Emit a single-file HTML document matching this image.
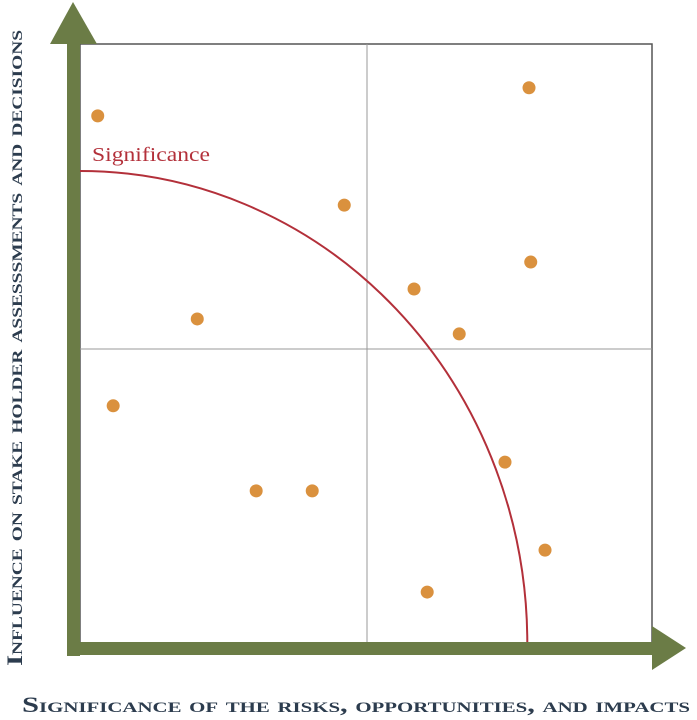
<!DOCTYPE html>
<html><head><meta charset="utf-8"><style>
body{margin:0;background:#fff;}
svg{display:block;}
.lbl{font-family:"Liberation Serif",serif;font-weight:bold;fill:#2c3c4e;font-variant:small-caps;}
</style></head><body>
<svg width="697" height="720" viewBox="0 0 697 720">
<rect x="80" y="44" width="572" height="599" fill="none" stroke="#555" stroke-width="1.5"/>
<line x1="367" y1="44" x2="367" y2="643" stroke="#999" stroke-width="1"/>
<line x1="80" y1="349" x2="652" y2="349" stroke="#999" stroke-width="1"/>
<path id="curve" fill="none" stroke="#b3303a" stroke-width="2"/>
<text x="92" y="161" font-family="Liberation Serif,serif" font-size="20" fill="#b3303a" textLength="118" lengthAdjust="spacingAndGlyphs">Significance</text>
<g id="dots"></g>
<rect x="67" y="40" width="13" height="616" fill="#6b7c46"/>
<polygon points="73,2 50,44 97,44" fill="#6b7c46"/>
<rect x="67" y="642" width="590" height="13" fill="#6b7c46"/>
<polygon points="686,648 652,626 652,670" fill="#6b7c46"/>
<text class="lbl" x="356" y="712" font-size="22" text-anchor="middle" textLength="668" lengthAdjust="spacingAndGlyphs">Significance of the risks, opportunities, and impacts</text>
<text class="lbl" transform="translate(22,348) rotate(-90)" font-size="22" text-anchor="middle" textLength="636" lengthAdjust="spacingAndGlyphs">Influence on stake holder assesssments and decisions</text>
</svg>
<script>
const xs=[0.31,7.85,4.62,7.88,5.84,2.05,6.63,0.58,7.43,3.08,4.06,8.13,6.07];
const ys=[8.80,9.27,7.31,6.36,5.91,5.41,5.16,3.96,3.02,2.54,2.54,1.55,0.85];
const curveX=7.82, curveY=7.88;
const X=v=>80+v*57.2, Y=v=>643-v*59.9;
const g=document.getElementById('dots');
xs.forEach((x,i)=>{const c=document.createElementNS('http://www.w3.org/2000/svg','circle');
c.setAttribute('cx',X(x));c.setAttribute('cy',Y(ys[i]));c.setAttribute('r',6.5);c.setAttribute('fill','#da913e');


g.appendChild(c);});
const rx=X(curveX)-X(0), ry=Y(0)-Y(curveY);
document.getElementById('curve').setAttribute('d',`M${X(0)},${Y(curveY)} A${rx},${ry} 0 0 1 ${X(curveX)},${Y(0)}`);
</script>
</body></html>
